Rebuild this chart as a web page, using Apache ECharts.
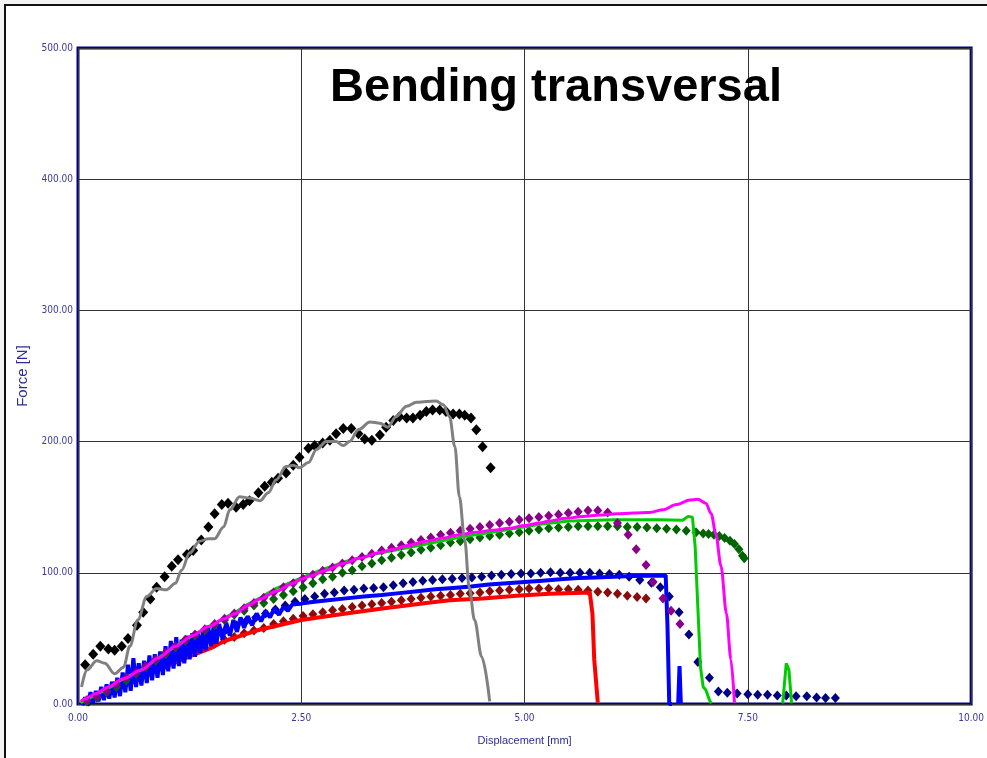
<!DOCTYPE html>
<html>
<head>
<meta charset="utf-8">
<script src="https://cdn.jsdelivr.net/npm/echarts@6/dist/echarts.min.js"></script>
<style>
html,body{margin:0;padding:0;background:#f3f3f3;}
#c{width:987px;height:758px;}
</style>
</head>
<body>
<div id="c"></div>
<script>
// ---- data ----
const titleText = 'Bending transversal';
const xTicks = [0, 2.5, 5, 7.5, 10];
const yTicks = [0, 100, 200, 300, 400, 500];

const blackDiamonds = [[0.08,30],[0.17,38],[0.25,44],[0.34,42],[0.41,41],[0.49,44],[0.56,50],[0.66,60],[0.73,70],[0.81,80],[0.88,89],[0.97,97],[1.05,105],[1.12,110],[1.22,114],[1.29,117],[1.38,125],[1.46,135],[1.53,145],[1.61,152],[1.68,153],[1.77,150],[1.85,152],[1.92,155],[2.02,161],[2.09,166],[2.17,169],[2.24,172],[2.33,176],[2.41,182],[2.48,188],[2.58,195],[2.65,197],[2.74,199],[2.82,201],[2.89,206],[2.97,210],[3.06,210],[3.14,206],[3.21,202],[3.29,201],[3.38,205],[3.45,211],[3.53,216],[3.60,219],[3.68,218],[3.75,218],[3.83,220],[3.90,223],[3.97,224],[4.05,224],[4.12,223],[4.20,221],[4.27,221],[4.33,220],[4.40,218],[4.46,209],[4.53,196],[4.62,180]];

const grayLine = [[0.04,13],[0.10,26],[0.21,33],[0.30,31],[0.41,23],[0.51,28],[0.58,44],[0.67,64],[0.77,82],[0.88,88],[0.99,87],[1.09,92],[1.16,102],[1.25,115],[1.36,124],[1.46,126],[1.53,126],[1.63,135],[1.70,148],[1.81,158],[1.92,157],[2.04,155],[2.13,161],[2.22,171],[2.33,181],[2.41,182],[2.48,180],[2.58,184],[2.67,194],[2.78,200],[2.89,200],[2.97,197],[3.04,200],[3.14,209],[3.27,215],[3.38,214],[3.47,211],[3.56,219],[3.68,227],[3.79,230],[3.90,230.5],[4.01,231],[4.09,228],[4.16,219],[4.22,196],[4.27,158],[4.33,125],[4.38,89],[4.44,64],[4.52,36],[4.61,2]];

const magentaLine = [[0.03,2],[0.08,4],[0.2,8],[0.34,13],[0.5,19],[0.71,26],[0.9,35],[1.09,44],[1.28,52],[1.46,59],[1.64,65],[1.76,69],[1.9,75],[2.04,80],[2.22,86],[2.41,92],[2.50,95],[2.60,97.5],[2.78,102],[2.97,107],[3.15,111],[3.38,115.5],[3.53,118],[3.71,121],[3.90,124],[4.09,126.5],[4.27,129],[4.46,131],[4.65,132.5],[4.83,134],[5.0,136],[5.17,138],[5.28,139.5],[5.46,141.5],[5.65,143],[5.84,144],[6.03,145],[6.22,145.5],[6.40,146],[6.55,148],[6.70,152],[6.85,155.5],[6.94,156],[7.03,153],[7.09,145],[7.14,130],[7.20,105],[7.26,69],[7.31,34],[7.35,1]];

const greenLine = [[0.03,1],[0.08,3],[0.2,7],[0.34,12],[0.5,19],[0.71,26],[0.9,35],[1.09,44],[1.28,52],[1.46,59],[1.64,65.5],[1.76,70],[1.9,76],[2.04,81],[2.2,87.5],[2.41,93.5],[2.6,99],[2.78,103.5],[2.97,108],[3.15,111.5],[3.38,115],[3.6,118],[3.9,122],[4.27,127],[4.65,131],[5.0,135],[5.17,137],[5.5,139.5],[6.0,140.5],[6.5,140.5],[6.77,140],[6.83,143],[6.88,142.3],[6.91,120],[6.94,74],[6.97,28],[7.00,13],[7.03,10.7],[7.07,3],[7.09,0.5],[7.5,'-'],[7.89,0.5],[7.93,31],[7.96,26],[7.99,0.5]];

const redLine = [[0.05,1],[0.3,7],[0.6,16],[0.9,26],[1.2,35],[1.5,43],[1.64,48],[2.0,56],[2.5,64],[3.0,69],[3.43,73],[3.9,77],[4.16,79],[4.53,80.5],[4.91,82.5],[5.28,84],[5.73,85],[5.76,69],[5.78,34],[5.82,1]];

const blueLine = [[0.05,-1],[0.08,5],[0.11,0],[0.14,9],[0.17,1],[0.20,10],[0.23,2],[0.26,13],[0.29,3],[0.32,15],[0.35,4],[0.38,17],[0.41,5],[0.44,20],[0.47,6],[0.50,24],[0.53,9],[0.56,30],[0.59,10],[0.62,35],[0.65,13],[0.68,31],[0.71,14],[0.74,33],[0.77,16],[0.80,37],[0.83,18],[0.86,38],[0.89,20],[0.92,40],[0.95,22],[0.98,44],[1.01,25],[1.04,48],[1.07,27],[1.10,51],[1.13,29],[1.16,49],[1.19,31],[1.22,52],[1.25,34],[1.28,54],[1.31,36],[1.34,55],[1.37,39],[1.40,57],[1.43,41],[1.46,58],[1.49,44],[1.52,60],[1.55,46],[1.58,61],[1.62,49],[1.66,62],[1.70,52],[1.74,64],[1.78,55],[1.82,66],[1.86,58],[1.90,67],[1.95,60],[2.00,69],[2.05,63],[2.10,71],[2.15,66],[2.20,73],[2.25,68],[2.30,74],[2.35,71],[2.40,76],[2.50,76.5],[2.60,77.5],[2.80,79],[3.0,80.5],[3.2,82],[3.4,83],[3.6,84.5],[3.8,86],[4.0,87.5],[4.2,88.5],[4.4,89.5],[4.6,91],[4.8,92],[5.0,93],[5.2,94],[5.4,95],[5.6,96],[5.8,96.5],[6.0,97],[6.2,97.5],[6.4,97.8],[6.58,98],[6.60,60],[6.62,0],[6.65,0],[6.68,'-'],[6.72,0],[6.735,29],[6.75,0]];

const darkRedDiamonds = [[0.10,2],[0.21,5],[0.32,9],[0.43,12],[0.54,16],[0.65,19],[0.76,23],[0.87,27],[0.98,30],[1.09,34],[1.20,37],[1.31,40],[1.42,43],[1.53,46],[1.64,49],[1.75,51],[1.86,54],[1.97,56],[2.08,58],[2.19,61],[2.30,63],[2.41,65],[2.52,67],[2.63,68.5],[2.74,70],[2.85,71.5],[2.96,72.5],[3.07,74],[3.18,75],[3.29,76],[3.40,77],[3.51,78],[3.62,79],[3.73,80],[3.84,81],[3.95,82],[4.06,82.5],[4.17,83],[4.28,84],[4.39,84.5],[4.50,85],[4.61,86],[4.72,86.5],[4.83,87],[4.94,87.5],[5.05,88],[5.16,88],[5.27,88],[5.38,87.5],[5.49,87.5],[5.60,87],[5.71,86.5],[5.82,85.5],[5.93,85],[6.04,84],[6.15,82.5],[6.26,81.5],[6.36,80.5]];

const navyDiamonds = [[0.12,2],[0.23,6],[0.34,10],[0.45,14],[0.56,18],[0.67,22],[0.78,26],[0.89,30],[1.00,34],[1.11,38],[1.22,42],[1.33,46],[1.44,50],[1.55,53],[1.66,57],[1.77,60],[1.88,63],[1.99,66],[2.10,69],[2.21,72],[2.32,75],[2.43,78],[2.54,80],[2.65,82],[2.76,84],[2.87,85],[2.98,86.5],[3.09,87],[3.20,88],[3.31,88.5],[3.42,89],[3.53,90.5],[3.64,92],[3.75,93],[3.86,94],[3.97,94.5],[4.08,95],[4.19,95.5],[4.30,96],[4.41,96.5],[4.52,97],[4.63,98],[4.74,98.5],[4.85,99],[4.96,99.5],[5.07,99.5],[5.18,100],[5.29,100.5],[5.40,100],[5.51,100],[5.62,100],[5.73,100],[5.84,99.5],[5.95,99],[6.06,98.5],[6.17,97],[6.29,94.5],[6.42,92.5],[6.52,89],[6.62,82],[6.73,70],[6.84,53],[6.94,32],[7.07,20],[7.17,9.5],[7.27,8.5],[7.38,8],[7.50,7.5],[7.61,7],[7.72,7],[7.83,6.5],[7.93,6.5],[8.04,6],[8.16,6],[8.27,5],[8.37,4.5],[8.48,4.5]];

const darkGreenDiamonds = [[0.10,2],[0.21,5],[0.32,9],[0.43,13],[0.54,18],[0.65,23],[0.76,28],[0.87,33],[0.98,38],[1.09,43],[1.20,48],[1.31,52],[1.42,56],[1.53,60],[1.64,64],[1.75,68],[1.86,71],[1.97,75],[2.08,77],[2.19,80],[2.30,83],[2.41,86],[2.52,89],[2.63,92],[2.74,95],[2.85,97],[2.96,100],[3.07,102],[3.18,105],[3.29,107],[3.40,109.5],[3.51,111.5],[3.62,113.5],[3.73,115.5],[3.84,117.5],[3.95,119],[4.06,121],[4.17,123],[4.28,124],[4.39,125.5],[4.50,127],[4.61,128],[4.72,129],[4.83,130],[4.94,131],[5.05,132],[5.16,133],[5.27,134],[5.38,134.5],[5.49,135],[5.60,135.5],[5.71,135.5],[5.82,135.5],[5.93,135.5],[6.04,135.5],[6.15,135],[6.26,135],[6.37,134.5],[6.48,134],[6.59,133.5],[6.70,133],[6.81,132],[6.92,131],[7.00,130],[7.06,129.5],[7.12,129],[7.18,128],[7.24,126.5],[7.30,124.5],[7.35,122],[7.40,118],[7.44,113],[7.46,111]];

const purpleDiamonds = [[0.10,3],[0.21,6],[0.32,10],[0.43,15],[0.54,20],[0.65,24],[0.76,29],[0.87,34],[0.98,39],[1.09,44],[1.20,49],[1.31,53],[1.42,57],[1.53,61],[1.64,65],[1.75,69],[1.86,73],[1.97,77],[2.08,81],[2.19,85],[2.30,89],[2.41,92],[2.52,95.5],[2.63,98.5],[2.74,101.5],[2.85,104],[2.96,107],[3.07,109.5],[3.18,112],[3.29,114.5],[3.40,117],[3.51,119],[3.62,121],[3.73,123],[3.84,125],[3.95,127],[4.06,129],[4.17,130.5],[4.28,132],[4.39,133.5],[4.50,135],[4.61,136.5],[4.72,138],[4.83,139],[4.94,140.5],[5.05,141.5],[5.16,142.5],[5.27,143.5],[5.38,144.5],[5.49,145.5],[5.60,146.5],[5.71,147.5],[5.82,147.5],[5.93,146],[6.04,138],[6.16,129],[6.25,118],[6.36,106],[6.44,93],[6.55,80.5],[6.64,71],[6.74,61]];

// ---- chart ----
const chart = echarts.init(document.getElementById('c'), null, {renderer:'canvas'});
const tickFont = "'Liberation Sans Narrow','DejaVu Sans Condensed','Arial Narrow',sans-serif";
function lineS(data, color, w, z, smooth){
  return {type:'line', data, symbol:'none', showSymbol:false, smooth: smooth||false, smoothMonotone:'x',
    lineStyle:{color, width:w}, itemStyle:{color}, z, animation:false, connectNulls:false};
}
function scat(data, color, size, z){
  return {type:'scatter', data, symbol:'diamond', symbolSize:size, itemStyle:{color, opacity:1}, z, animation:false};
}
chart.setOption({
  animation:false,
  backgroundColor:'transparent',
  graphic:[
    {type:'rect', shape:{x:5,y:5,width:990,height:760}, style:{fill:'#ffffff', stroke:'#111', lineWidth:2}, z:-10, silent:true},
    {type:'text', x:556, y:88, style:{text:titleText, font:"bold 47px 'Liberation Sans', Arial, sans-serif", fill:'#000', align:'center', verticalAlign:'middle'}, z:100}
  ],
  grid:{left:78, right:14, top:48, bottom:54, show:true, borderColor:'#000088', borderWidth:3, backgroundColor:'transparent'},
  xAxis:{type:'value', min:0, max:10, interval:2.5,
    name:'Displacement [mm]', nameLocation:'middle', nameGap:31,
    nameTextStyle:{color:'#2b2b9a', fontSize:11, fontFamily:"'Liberation Sans', Arial, sans-serif"},
    axisLine:{show:false}, axisTick:{show:false},
    axisLabel:{color:'#3a3aa0', fontSize:10, fontFamily:tickFont, margin:9, formatter:v=>v.toFixed(2), showMinLabel:true, showMaxLabel:true},
    splitLine:{show:true, lineStyle:{color:'#333', width:1}}},
  yAxis:{type:'value', min:0, max:500, interval:100,
    name:'Force [N]', nameLocation:'middle', nameGap:40,
    nameTextStyle:{color:'#2b2b9a', fontSize:15, fontFamily:"'Liberation Sans', Arial, sans-serif"},
    axisLine:{show:false}, axisTick:{show:false},
    axisLabel:{color:'#3a3aa0', fontSize:10, fontFamily:tickFont, margin:5, formatter:v=>v.toFixed(2)},
    splitLine:{show:true, lineStyle:{color:'#333', width:1}}},
  series:[
    scat(darkRedDiamonds, '#8b0a0a', [9,10], 2),
    lineS(redLine, '#ff0000', 4, 3),
    scat(navyDiamonds, '#000080', [9,10], 4),
    lineS(blueLine, '#0000ff', 4, 5),
    scat(darkGreenDiamonds, '#006400', [9,10], 6),
    lineS(greenLine, '#00cc00', 3, 7),
    scat(purpleDiamonds, '#8b008b', [9,10], 8),
    lineS(magentaLine, '#ff00ff', 3, 9, 0.3),
    scat(blackDiamonds, '#000000', [10,11], 10),
    lineS(grayLine, '#808080', 3, 11, 0.35)
  ]
});
</script>
</body>
</html>
